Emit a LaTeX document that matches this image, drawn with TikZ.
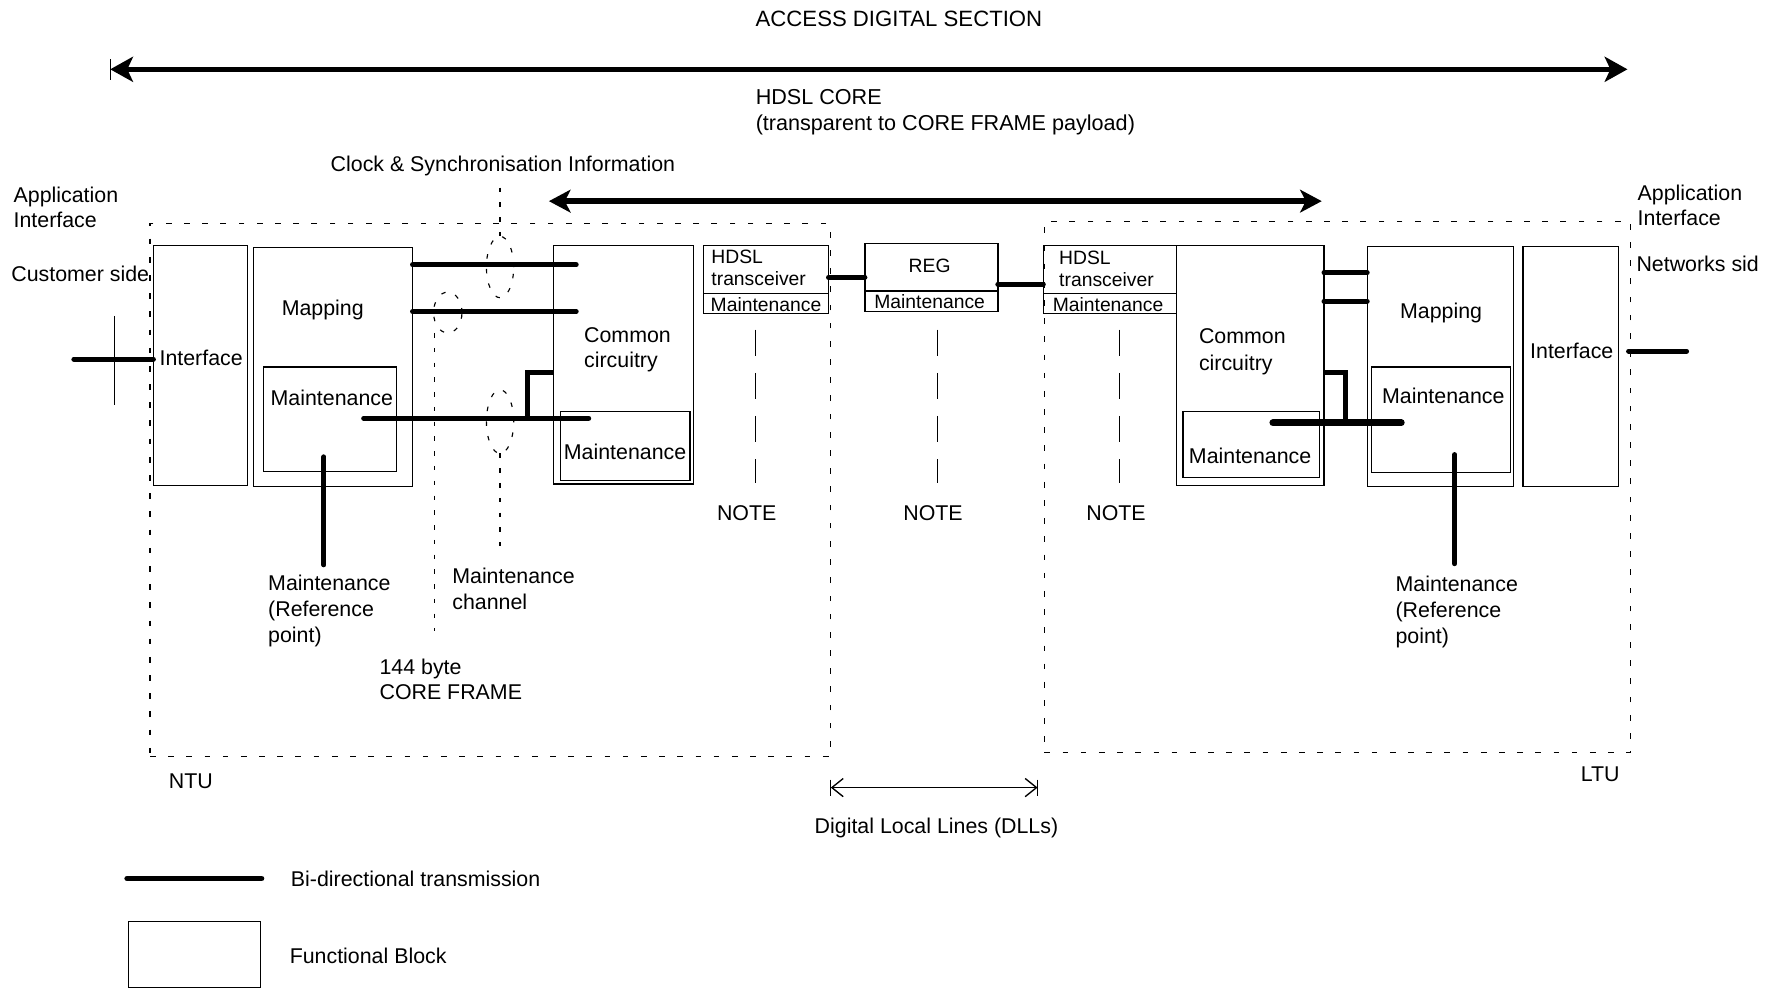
\documentclass[tikz,border=0pt]{standalone}
\usepackage{fontspec}
\setmainfont{Liberation Sans}
\usetikzlibrary{arrows.meta,fit,calc}

\begin{document}
\begin{tikzpicture}[x=0.5pt,y=-0.5pt,
  every node/.style={inner sep=0pt, outer sep=0pt},
  txt/.style={font=\fontsize{9.4}{11.5}\selectfont, align=left},
  small/.style={font=\fontsize{8.5}{9.6}\selectfont, align=left},
  fblock/.style={draw, line width=0.6pt},
  unitbox/.style={draw, line width=0.5pt, dash pattern=on 2.5pt off 5.5pt},
  bidir/.style={line width=2.2pt, line cap=round},
  heavy/.style={line width=3pt, line cap=round},
  bigarrow/.style={line width=2.4pt},
  notedash/.style={line width=0.6pt, dash pattern=on 11.5pt off 7.5pt},
  finedash/.style={line width=0.5pt, dash pattern=on 2pt off 4.5pt},
  thinline/.style={line width=0.6pt}
]
\useasboundingbox (0,0) rectangle (1568,870);

% ---- section arrows and headings ----
\node[txt, anchor=north, font=\fontsize{9.75}{11.5}\selectfont] (title) at (791,10) {ACCESS DIGITAL SECTION};
\coordinate (adsL) at (97,61);
\coordinate (adsR) at (1432,61);
\draw[bigarrow, {Stealth[length=10pt,width=11pt,inset=2.5pt]}-{Stealth[length=10pt,width=11pt,inset=2.5pt]}] (adsL) -- (adsR);
\draw[thinline] ($(adsL)+(0,-9)$) -- ($(adsL)+(0,9)$);
\node[txt, anchor=north west, font=\fontsize{9.5}{11.5}\selectfont] (core) at (665,79) {HDSL CORE\\(transparent to CORE FRAME payload)};

\node[txt, anchor=north west] (clk) at (291,137) {Clock \& Synchronisation Information};
\coordinate (clkL) at (483,177);
\coordinate (clkR) at (1163,177);
\draw[bigarrow, {Stealth[length=9.5pt,width=10pt,inset=2.5pt]}-{Stealth[length=9.5pt,width=10pt,inset=2.5pt]}] (clkL) -- (clkR);

% ---- side labels ----
\node[txt, anchor=north west, font=\fontsize{9.4}{11}\selectfont] (appL) at (12,165) {Application\\Interface};
\node[txt, anchor=north west] (cust) at (10,234) {Customer side};
\node[txt, anchor=north west, font=\fontsize{9.4}{11}\selectfont] (appR) at (1441,163) {Application\\Interface};
\node[txt, anchor=north west] (netw) at (1440,225) {Networks sid};

% ---- NTU and LTU outlines ----
\node[unitbox, fit={(132,197) (731,666)}] (ntu) {};
\node[unitbox, fit={(919,195) (1435,662)}] (ltu) {};
\node[txt, anchor=north] (ntuL) at (168,681) {NTU};
\node[txt, anchor=north] (ltuL) at (1408,675) {LTU};

% ---- NTU functional blocks ----
\node[fblock, fit={(135,216) (218,427)}] (ifN) {};
\node[txt, anchor=north] at (177,308) {Interface};
\node[fblock, fit={(223,218) (363,428)}] (mapN) {};
\node[txt, anchor=north] at (284,264) {Mapping};
\node[fblock, fit={(232,323) (349,415)}] (mmN) {};
\node[txt, anchor=north] at (292,343) {Maintenance};
\node[fblock, fit={(487,216) (610,426)}] (ccN) {};
\node[txt, anchor=north west, font=\fontsize{9.4}{11}\selectfont] at (514,288) {Common\\circuitry};
\node[fblock, fit={(493,362) (607,423)}] (cmN) {};
\node[txt, anchor=north] at (550,391) {Maintenance};
\node[fblock, fit={(619,216) (729,276)}] (hdN) {};
\draw[thinline] (hdN.west |- 0,258) -- (hdN.east |- 0,258);
\node[small, anchor=north west] at (626,220) {HDSL\\transceiver};
\node[small, anchor=north] at (674,262) {Maintenance};

% ---- regenerator ----
\node[fblock, fit={(761,214) (878,274)}] (reg) {};
\draw[thinline] (reg.west |- 0,256) -- (reg.east |- 0,256);
\node[small, anchor=north] at (818,228) {REG};
\node[small, anchor=north] at (818,259) {Maintenance};

% ---- LTU functional blocks ----
\node[fblock, fit={(918,216) (1035,276)}] (hdL) {};
\draw[thinline] (hdL.west |- 0,258) -- (hdL.east |- 0,258);
\node[small, anchor=north west] at (932,221) {HDSL\\transceiver};
\node[small, anchor=north] at (975,262) {Maintenance};
\node[fblock, fit={(1035,216) (1165,427)}] (ccL) {};
\node[txt, anchor=north west, font=\fontsize{9.4}{12}\selectfont] at (1055,289) {Common\\circuitry};
\node[fblock, fit={(1041,362) (1161,420)}] (cmL) {};
\node[txt, anchor=north] at (1100,394) {Maintenance};
\node[fblock, fit={(1203,217) (1332,428)}] (mapL) {};
\node[txt, anchor=north] at (1268,267) {Mapping};
\node[fblock, fit={(1207,323) (1329,416)}] (mmL) {};
\node[txt, anchor=north] at (1270,341) {Maintenance};
\node[fblock, fit={(1340,217) (1424,428)}] (ifL) {};
\node[txt, anchor=north] at (1383,302) {Interface};

% ---- NTU transmission paths ----
\coordinate (custIn) at (65,316);
\draw[bidir] (custIn) -- (ifN.west |- custIn);
\draw[line width=0.5pt] (101,278) -- (101,356);
\coordinate (mrN) at (285,402);
\coordinate (mrNend) at (285,497);
\draw[bidir] (mrN) -- (mrNend);
\coordinate (c1) at (507,233);
\coordinate (c2) at (507,274);
\draw[bidir] (mapN.east |- c1) -- (c1);
\draw[bidir] (mapN.east |- c2) -- (c2);
\coordinate (mN1) at (320,368);
\coordinate (mN2) at (518,368);
\draw[bidir] (mN1) -- (mN2);
\coordinate (brN) at (464,328);
\draw[bidir, line cap=butt] (brN |- mN1) -- (brN) -- (ccN.west |- brN);

% maintenance channel and core frame markers
\draw[finedash] (440,235) ellipse [x radius=6pt, y radius=13.5pt];
\draw[finedash] (394,275) ellipse [x radius=6.25pt, y radius=9pt];
\draw[finedash] (440,371) ellipse [x radius=6pt, y radius=14pt];
\draw[finedash] (440,165) -- (440,208);
\draw[finedash] (440,399) -- (440,480);
\draw[finedash] (382,293) -- (382,555);
\node[txt, anchor=north west] (mref) at (236,506) {Maintenance\\(Reference\\point)};
\node[txt, anchor=north west] (mch) at (398,500) {Maintenance\\channel};
\node[txt, anchor=north west, font=\fontsize{9.4}{11}\selectfont] (cf) at (334,580) {144 byte\\CORE FRAME};

% ---- line side ----
\draw[bidir] (hdN.east |- 0,244) -- (reg.west |- 0,244);
\draw[bidir] (reg.east |- 0,250) -- (hdL.west |- 0,250);
\draw[notedash] (665,290) -- (665,425);
\draw[notedash] (825,290) -- (825,425);
\draw[notedash] (985,290) -- (985,425);
\node[txt, anchor=north] (n1) at (657,445) {NOTE};
\node[txt, anchor=north] (n2) at (821,445) {NOTE};
\node[txt, anchor=north] (n3) at (982,445) {NOTE};

\coordinate (dllL) at (731,693);
\coordinate (dllR) at (913,693);
\draw[thinline, {Straight Barb[length=5pt,width=8pt]}-{Straight Barb[length=5pt,width=8pt]}] (dllL) -- (dllR);
\draw[thinline] ($(dllL)+(0,-7)$) -- ($(dllL)+(0,7)$);
\draw[thinline] ($(dllR)+(0,-7)$) -- ($(dllR)+(0,7)$);
\node[txt, anchor=north] (dll) at (824,720) {Digital Local Lines (DLLs)};

% ---- LTU transmission paths ----
\draw[bidir] (ccL.east |- 0,240) -- (mapL.west |- 0,240);
\draw[bidir] (ccL.east |- 0,265) -- (mapL.west |- 0,265);
\coordinate (brL) at (1184,328);
\coordinate (mL1) at (1120,372);
\coordinate (mL2) at (1233,372);
\draw[bidir, line cap=butt] (ccL.east |- brL) -- (brL) -- (brL |- mL1);
\draw[heavy] (mL1) -- (mL2);
\coordinate (mrL) at (1280,400);
\coordinate (mrLend) at (1280,496);
\draw[bidir] (mrL) -- (mrLend);
\coordinate (netA) at (1433,309);
\coordinate (netB) at (1484,309);
\draw[bidir] (netA) -- (netB);
\node[txt, anchor=north west] (mrefL) at (1228,507) {Maintenance\\(Reference\\point)};

% ---- legend ----
\coordinate (legA) at (112,773);
\coordinate (legB) at (230,773);
\draw[bidir, line width=2.6pt] (legA) -- (legB);
\node[txt, anchor=north west] (legT1) at (256,766) {Bi-directional transmission};
\node[fblock, fit={(113,811) (229,869)}] (legBox) {};
\node[txt, anchor=north west] (legT2) at (255,834) {Functional Block};
\end{tikzpicture}
\end{document}
